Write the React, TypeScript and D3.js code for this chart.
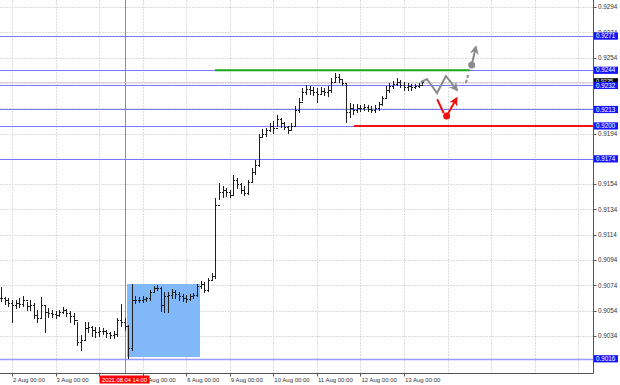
import React from "react";
import * as d3 from "d3";

// OHLC bars (2-hour bars), prices in points (x 1e-5)
const barHigh = [
  90727, 90648, 90640, 90624, 90624, 90640, 90656, 90609, 90624, 90601,
  90545, 90648, 90585, 90561, 90545, 90538, 90545, 90569, 90553, 90538,
  90522, 90450, 90348, 90450, 90450, 90419, 90411, 90411, 90403, 90387,
  90371, 90379, 90482, 90593, 90482, 90427, 90751, 90656, 90648, 90656,
  90648, 90703, 90735, 90743, 90727, 90688, 90688, 90711, 90703, 90688,
  90672, 90664, 90672, 90680, 90751, 90775, 90767, 90798, 90838, 91431,
  91549, 91525, 91509, 91494, 91612, 91589, 91549, 91525, 91573, 91668,
  91731, 91936, 91976, 91984, 92023, 92039, 92086, 92063, 92031, 91999,
  92023, 92158, 92221, 92300, 92324, 92316, 92308, 92300, 92308, 92300,
  92316, 92379, 92418, 92410, 92371, 92332, 92181, 92173, 92173, 92165,
  92173, 92165, 92158, 92165, 92189, 92237, 92316, 92339, 92355, 92379,
  92363, 92347, 92339, 92332, 92332, 92339, 92355,
];
const barLow = [
  90609, 90585, 90577, 90450, 90561, 90569, 90577, 90545, 90545, 90482,
  90450, 90482, 90364, 90490, 90490, 90482, 90498, 90514, 90498, 90450,
  90427, 90261, 90229, 90308, 90371, 90340, 90332, 90340, 90348, 90332,
  90324, 90324, 90340, 90419, 90387, 90166, 90229, 90593, 90601, 90601,
  90609, 90624, 90688, 90696, 90530, 90522, 90522, 90640, 90640, 90624,
  90609, 90601, 90624, 90640, 90656, 90719, 90680, 90688, 90782, 90798,
  91415, 91438, 91446, 91438, 91454, 91509, 91470, 91454, 91462, 91557,
  91620, 91683, 91905, 91920, 91960, 91944, 91999, 91984, 91968, 91944,
  91968, 91999, 92110, 92205, 92252, 92245, 92237, 92189, 92245, 92237,
  92229, 92268, 92347, 92347, 92316, 92031, 92063, 92094, 92110, 92118,
  92126, 92118, 92110, 92110, 92126, 92158, 92221, 92268, 92292, 92316,
  92300, 92284, 92284, 92284, 92292, 92300, 92316,
];
const barClose = [
  90640, 90624, 90601, 90585, 90601, 90593, 90624, 90577, 90585, 90506,
  90482, 90585, 90530, 90522, 90514, 90506, 90530, 90545, 90522, 90498,
  90466, 90292, 90308, 90403, 90411, 90387, 90371, 90379, 90379, 90364,
  90348, 90356, 90466, 90450, 90419, 90245, 90624, 90624, 90624, 90632,
  90640, 90688, 90719, 90719, 90585, 90656, 90664, 90688, 90672, 90656,
  90640, 90632, 90656, 90664, 90735, 90751, 90703, 90782, 90814, 91375,
  91478, 91494, 91478, 91454, 91573, 91541, 91494, 91470, 91557, 91636,
  91691, 91912, 91936, 91968, 91999, 91984, 92055, 92023, 91992, 91968,
  91999, 92126, 92189, 92268, 92292, 92284, 92268, 92252, 92276, 92268,
  92284, 92347, 92387, 92371, 92339, 92110, 92142, 92126, 92142, 92142,
  92150, 92134, 92126, 92142, 92173, 92221, 92284, 92316, 92332, 92347,
  92324, 92308, 92316, 92308, 92316, 92324, 92347,
];
const firstBarHour = -6; // trading hours relative to 2 Aug 00:00
const barHours = 2;

// price grid and the labels that remain visible on the axis
const priceTicks = [
  0.9294, 0.9274, 0.9254, 0.9234, 0.9214, 0.9194, 0.9174, 0.9154, 0.9134,
  0.9114, 0.9094, 0.9074, 0.9054, 0.9034,
];
const priceLabels = [
  0.9294, 0.9274, 0.9254, 0.9194, 0.9154, 0.9134, 0.9114, 0.9094, 0.9074,
  0.9054, 0.9034,
];
const dayLabels = [
  "2 Aug 00:00", "3 Aug 00:00", "5 Aug 00:00", "6 Aug 00:00",
  "9 Aug 00:00", "10 Aug 00:00", "11 Aug 00:00", "12 Aug 00:00", "13 Aug 00:00",
];
const dayLabelHours = [0, 24, 72, 96, 120, 144, 168, 192, 216];
const dayTickHours = [0, 24, 48, 72, 96, 120, 144, 168, 192, 216];
const gridDayHours = [0, 24, 48, 72, 96, 120, 144, 168, 192, 216, 240, 264, 288, 312];

const levelPrices = [0.9271, 0.9244, 0.9232, 0.9213, 0.92, 0.9174, 0.9016];
const bidPrice = 0.92347;
const markerHour = 62; // 2021.08.04 14:00
const markerLabel = "2021.08.04 14:00";

const greenLevel = { price: 0.9244, from: 111.8, to: 252.3 };
const redLevel = { price: 0.92, from: 188.4 };
const boxHours = [63.4, 103.6];
const boxPrices = [0.90751, 0.90174];

const zigzagHours = [225.3, 228.6, 234.2, 239.1, 245.2];
const zigzagPrices = [0.92347, 0.92371, 0.9226, 0.92395, 0.92284];
const redLegHours = [234.3, 237.9];
const redLegPrices = [0.92211, 0.921];
const redDot = { h: 239.5, p: 0.92079 };
const redTip = { h: 245, p: 0.92219 };
const grayLegHours = [250.1, 251.6];
const grayLegPrices = [0.92342, 0.92418];
const grayDot = { h: 253.3, p: 0.92482 };
const grayTip = { h: 255.6, p: 0.92624 };

export default function App() {
  const W = 620;
  const H = 385;
  const plotRight = 593.5;
  const plotBottom = 373.5;
  const x = d3.scaleLinear().domain([0, 216]).range([12, 404]);
  const y = d3.scaleLinear().domain([0.9034, 0.9294]).range([336, 7]);
  const font = "'Liberation Sans', Arial, sans-serif";
  const px = (v: number) => Math.round(v) + 0.5;

  const line = d3
    .line<[number, number]>()
    .x((d) => x(d[0]))
    .y((d) => y(d[1]));

  const bars = barClose.map((c, i) => {
    const h = firstBarHour + i * barHours;
    const o = i === 0 ? barClose[0] : barClose[i - 1];
    return { h, o: o / 1e5, c: c / 1e5, hi: barHigh[i] / 1e5, lo: barLow[i] / 1e5 };
  });

  const blue = "#7878ff";
  const labelBlue = "#1414ff";

  return (
    <svg
      width={W}
      height={H}
      style={{ position: "absolute", left: 0, top: 0, background: "#fff" }}
      fontFamily={font}
    >
      <defs>
        <marker id="ahGray" viewBox="0 0 10 10" refX="8" refY="5" markerWidth="9" markerHeight="9" markerUnits="userSpaceOnUse" orient="auto">
          <path d="M0,0 L10,5 L0,10 L3,5 Z" fill="#8a8a8a" />
        </marker>
        <marker id="ahRed" viewBox="0 0 10 10" refX="8" refY="5" markerWidth="9" markerHeight="9" markerUnits="userSpaceOnUse" orient="auto">
          <path d="M0,0 L10,5 L0,10 L3,5 Z" fill="#ee1111" />
        </marker>
      </defs>

      {/* grid */}
      {gridDayHours.map((h) => (
        <line key={"vg" + h} x1={px(x(h))} x2={px(x(h))} y1={0} y2={plotBottom} stroke="#dcdcdc" strokeDasharray="2,1" />
      ))}
      {priceTicks.map((p) => (
        <line key={"hg" + p} x1={0} x2={plotRight} y1={px(y(p))} y2={px(y(p))} stroke="#dcdcdc" strokeDasharray="2,1" />
      ))}

      {/* blue box */}
      <rect
        x={x(boxHours[0])}
        y={y(boxPrices[0])}
        width={x(boxHours[1]) - x(boxHours[0])}
        height={y(boxPrices[1]) - y(boxPrices[0])}
        fill="#80b8fa"
      />

      {/* marker vertical line */}
      <line x1={px(x(markerHour))} x2={px(x(markerHour))} y1={0} y2={plotBottom} stroke="#ea6a58" strokeWidth={1} />

      {/* levels */}
      {levelPrices.map((p) => (
        <line key={"lv" + p} x1={0} x2={plotRight} y1={px(y(p))} y2={px(y(p))} stroke={blue} strokeWidth={p === 0.9016 ? 1.6 : 1} opacity={p === 0.9016 ? 0.75 : 1} />
      ))}
      <line x1={0} x2={plotRight} y1={px(y(bidPrice))} y2={px(y(bidPrice))} stroke="#d4d4d4" />
      <line x1={x(greenLevel.from)} x2={x(greenLevel.to)} y1={y(greenLevel.price)} y2={y(greenLevel.price)} stroke="#18a818" strokeWidth={2} />
      <line x1={x(redLevel.from)} x2={plotRight} y1={y(redLevel.price)} y2={y(redLevel.price)} stroke="#ee1111" strokeWidth={2} />

      {/* bars */}
      <g stroke="#1e1e1e" strokeWidth={1} shapeRendering="crispEdges">
        {bars.map((b, i) => {
          const bx = px(x(b.h));
          return (
            <g key={"b" + i}>
              <line x1={bx} x2={bx} y1={y(b.hi)} y2={y(b.lo) + 0.5} />
              <line x1={bx - 1.5} x2={bx} y1={px(y(b.o))} y2={px(y(b.o))} />
              <line x1={bx} x2={bx + 1.5} y1={px(y(b.c))} y2={px(y(b.c))} />
            </g>
          );
        })}
      </g>

      {/* forecast annotations */}
      <path
        d={line(zigzagHours.map((h, i) => [h, zigzagPrices[i]]) as [number, number][]) || ""}
        fill="none"
        stroke="#8a8a8a"
        strokeWidth={2}
        markerEnd="url(#ahGray)"
      />
      <path
        d={line(redLegHours.map((h, i) => [h, redLegPrices[i]]) as [number, number][]) || ""}
        fill="none"
        stroke="#ee1111"
        strokeWidth={2}
      />
      <circle cx={x(redDot.h)} cy={y(redDot.p)} r={3.5} fill="#ee1111" />
      <path
        d={line([[redDot.h, redDot.p], [redTip.h, redTip.p]]) || ""}
        fill="none"
        stroke="#ee1111"
        strokeWidth={2}
        markerEnd="url(#ahRed)"
      />
      <path
        d={line(grayLegHours.map((h, i) => [h, grayLegPrices[i]]) as [number, number][]) || ""}
        fill="none"
        stroke="#8a8a8a"
        strokeWidth={2}
        strokeDasharray="3,2"
      />
      <circle cx={x(grayDot.h)} cy={y(grayDot.p)} r={3.5} fill="#8a8a8a" />
      <path
        d={line([[grayDot.h, grayDot.p], [grayTip.h, grayTip.p]]) || ""}
        fill="none"
        stroke="#8a8a8a"
        strokeWidth={2}
        markerEnd="url(#ahGray)"
      />

      {/* axes frame */}
      <line x1={plotRight} x2={plotRight} y1={0} y2={plotBottom} stroke="#555" />
      <line x1={0} x2={plotRight} y1={plotBottom} y2={plotBottom} stroke="#555" />

      {/* price axis */}
      {priceTicks.map((p) => (
        <line key={"ptk" + p} x1={plotRight} x2={plotRight + 3} y1={px(y(p))} y2={px(y(p))} stroke="#555" />
      ))}
      {priceLabels.map((p) => (
        <text key={"pt" + p} x={598} y={y(p)} dy="0.35em" fontSize={6.3} fill="#333">
          {p.toFixed(4)}
        </text>
      ))}
      <g>
        <rect x={594} y={y(bidPrice) - 3.8} width={24} height={7.2} fill="#000" />
        <text x={596} y={y(bidPrice) - 0.6} dy="0.35em" fontSize={5.6} fill="#fff">
          {bidPrice.toFixed(4)}
        </text>
      </g>
      {levelPrices.map((p) => (
        <g key={"lb" + p}>
          <rect x={594} y={y(p) - 3.6} width={24} height={7.2} fill={labelBlue} />
          <text x={596} y={y(p)} dy="0.35em" fontSize={6.3} fill="#fff">
            {p.toFixed(4)}
          </text>
        </g>
      ))}

      {/* time axis */}
      {dayTickHours.map((h) => (
        <line key={"dtk" + h} x1={px(x(h))} x2={px(x(h))} y1={plotBottom} y2={plotBottom + 3} stroke="#555" />
      ))}
      {dayLabelHours.map((h, i) => (
        <text key={"dt" + h} x={x(h) + 1} y={381.5} fontSize={6} fill="#333">
          {dayLabels[i]}
        </text>
      ))}
      <rect x={x(markerHour) - 25} y={375.5} width={50} height={8} fill="#ff0000" />
      <text x={x(markerHour)} y={381.6} fontSize={5.8} fill="#fff" textAnchor="middle">
        {markerLabel}
      </text>
    </svg>
  );
}
